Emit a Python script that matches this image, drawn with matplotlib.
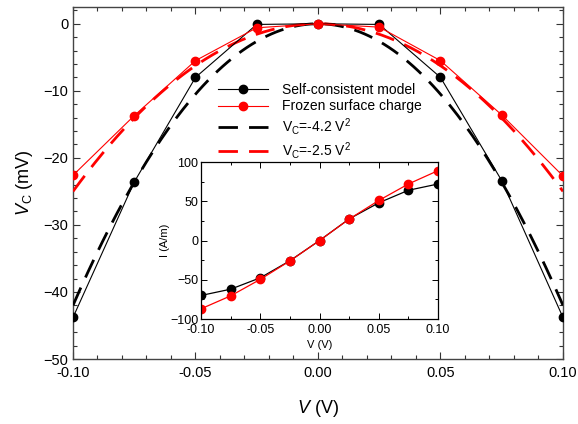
import numpy as np
import matplotlib
matplotlib.use("Agg")
import matplotlib.pyplot as plt
from matplotlib.ticker import MultipleLocator

plt.rcParams['font.family'] = ['Liberation Sans', 'DejaVu Sans']
plt.rcParams['mathtext.fontset'] = 'custom'
plt.rcParams['mathtext.rm'] = 'Liberation Sans'
plt.rcParams['mathtext.it'] = 'Liberation Sans:italic'

# Main data
V = [-0.10, -0.075, -0.05, -0.025, 0.0, 0.025, 0.05, 0.075, 0.10]
vc_selfconsistent = [-43.8, -23.6, -8.0, -0.1, 0.0, -0.1, -8.0, -23.4, -43.8]
vc_frozen = [-22.6, -13.7, -5.5, -0.6, 0.0, -0.5, -5.5, -13.6, -22.7]
coef_self = -4.2   # V_C = coef * V^2 (V)
coef_frozen = -2.5

# Inset data
I_selfconsistent = [-70, -62, -47.5, -25.8, 0.0, 27.5, 48, 64, 72]
I_frozen = [-87, -70.5, -49.5, -26, 0.0, 27.3, 51, 72, 89]

fig = plt.figure(figsize=(5.78, 4.24), dpi=100)
ax = fig.add_axes([0.1263, 0.1533, 0.8477, 0.8302])

vfit = np.linspace(-0.1, 0.1, 201)
ax.plot(V, vc_selfconsistent, '-o', color='black', lw=0.8, ms=6, label='Self-consistent model', zorder=4)
ax.plot(V, vc_frozen, '-o', color='red', lw=0.8, ms=6, label='Frozen surface charge', zorder=4)
ax.plot(vfit, coef_self * vfit**2 * 1000, color='black', lw=2, dashes=(7, 4),
        label='V$_\\mathrm{C}$=-4.2 V$^2$', zorder=3)
ax.plot(vfit, coef_frozen * vfit**2 * 1000, color='red', lw=2, dashes=(7, 4),
        label='V$_\\mathrm{C}$=-2.5 V$^2$', zorder=3)

ax.set_xlim(-0.1, 0.1)
ax.set_ylim(-50, 2.5)
ax.xaxis.set_major_locator(MultipleLocator(0.05))
ax.xaxis.set_minor_locator(MultipleLocator(0.01))
ax.yaxis.set_major_locator(MultipleLocator(10))
ax.yaxis.set_minor_locator(MultipleLocator(2))
ax.xaxis.set_major_formatter(matplotlib.ticker.FormatStrFormatter('%.2f'))
ax.tick_params(which='both', direction='in', top=True, right=True, labelsize=10.5, colors='#333333', labelcolor='black')
ax.tick_params(axis='x', which='major', pad=5)
ax.tick_params(which='major', length=5, width=0.8)
ax.tick_params(which='minor', length=3, width=0.8)
for s in ax.spines.values():
    s.set_color('#444444')
    s.set_linewidth(1.0)
ax.set_xlabel('$V$ (V)', fontsize=13, labelpad=13)
ax.set_ylabel('$V_\\mathrm{C}$ (mV)', fontsize=13, labelpad=6)

leg = ax.legend(loc='upper left', bbox_to_anchor=(0.296, 0.785), frameon=False, fontsize=10,
                handlelength=3.6, handletextpad=1.0, labelspacing=0.2, borderaxespad=0, borderpad=0)

# Inset
axi = fig.add_axes([0.3478, 0.2476, 0.41, 0.3703])
axi.plot(V, I_selfconsistent, '-o', color='black', lw=0.9, ms=6)
axi.plot(V, I_frozen, '-o', color='red', lw=0.9, ms=6)
axi.set_xlim(-0.1, 0.1)
axi.set_ylim(-100, 100)
axi.xaxis.set_major_locator(MultipleLocator(0.05))
axi.xaxis.set_minor_locator(MultipleLocator(0.025))
axi.yaxis.set_major_locator(MultipleLocator(50))
axi.yaxis.set_minor_locator(MultipleLocator(25))
axi.xaxis.set_major_formatter(matplotlib.ticker.FormatStrFormatter('%.2f'))
axi.tick_params(which='both', direction='in', top=True, right=True, labelsize=9)
axi.tick_params(axis='y', which='major', pad=2)
axi.tick_params(which='major', length=4, width=0.7)
axi.tick_params(which='minor', length=2.5, width=0.7)
axi.set_xlabel('V (V)', fontsize=8, labelpad=3)
axi.set_ylabel('I (A/m)', fontsize=8, labelpad=0)
for s in axi.spines.values():
    s.set_linewidth(0.9)

fig.savefig('out.png', dpi=100)
